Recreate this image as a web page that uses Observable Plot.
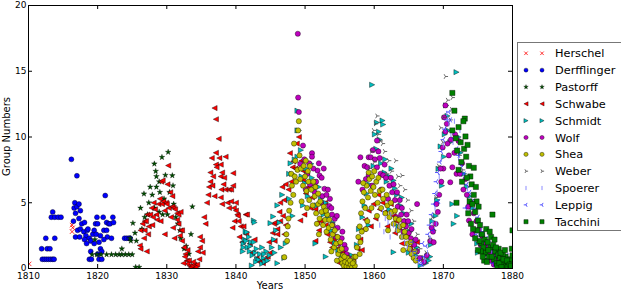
<!DOCTYPE html>
<html><head><meta charset="utf-8">
<script src="https://cdn.jsdelivr.net/npm/d3@7"></script>
<script src="https://cdn.jsdelivr.net/npm/@observablehq/plot@0.6"></script>
<style>body{margin:0;background:#fff}#chart{width:621px;height:292px}</style>
</head><body><div id="chart"></div><script>
const xTicks = [1810,1820,1830,1840,1850,1860,1870,1880];
const yTicks = [0,5,10,15,20];
const observers = ["Herschel","Derfflinger","Pastorff","Schwabe","Schmidt","Wolf","Shea","Weber","Spoerer","Leppig","Tacchini"];

const herschel = [[1810.1,0.35],[1816.3,2.8],[1816.4,3.1],[1816.3,3.3]];
const derfflinger = [[1811.9,1.5],[1812.0,0.7],[1812.3,0.7],[1812.5,2.3],[1812.6,0.7],[1812.7,1.5],[1812.9,0.7],[1813.1,1.5],[1813.2,0.7],[1813.3,3.9],[1813.5,4.3],[1813.5,0.7],[1813.7,0.7],[1813.8,2.3],[1813.8,3.9],[1814.3,3.9],[1814.7,3.9],
[1816.2,8.3],[1817.0,7.05],[1816.7,5.0],[1816.6,4.6],[1817.0,4.7],[1817.3,4.9],[1816.8,4.2],[1817.5,4.4],[1816.5,3.6],[1817.3,3.8],[1817.7,3.4],[1817.1,2.9],[1816.8,2.4],[1817.5,3.0],[1818.1,3.5],[1817.4,2.4],
[1818.0,2.8],[1818.5,2.9],[1818.3,2.5],[1818.8,2.3],[1818.1,2.2],[1818.4,1.9],[1819.0,2.1],[1818.6,3.0],[1819.3,2.6],[1819.5,2.9],[1819.7,3.4],[1819.0,1.3],[1818.8,0.7],[1819.1,0.7],[1819.9,3.9],[1820.0,3.4],[1819.8,2.6],[1820.2,2.0],[1820.4,1.5],[1820.6,1.3],[1820.2,0.7],[1820.6,0.7],[1820.9,2.9],[1820.8,3.9],[1821.3,3.5],[1821.3,2.9],[1821.4,2.4],[1821.6,3.4],[1820.9,2.2],[1820.4,2.5],[1821.1,5.55],[1821.8,3.4],[1822.0,2.3],[1822.2,3.9],[1822.3,3.5],[1823.9,2.3],[1824.2,2.3],[1824.5,2.3],[1824.7,2.3],[1819.5,1.9],[1820.0,1.1]];
const pastorff = [[1819.2,1.06],[1819.9,1.06],[1820.5,1.06],[1821.3,1.06],[1822.0,1.06],[1822.6,1.06],[1823.1,1.06],[1823.5,1.06],[1824.0,1.06],[1824.5,1.06],[1825.0,1.06],[1823.5,1.5],[1824.8,2.1],[1824.7,2.3],[1825.1,3.45],[1825.4,2.7],[1825.6,2.1],[1825.5,0.1],[1826.0,0.1],[1826.2,4.6],[1826.7,5.68],[1827.2,4.1],[1827.4,5.0],[1827.6,6.2],[1828.2,7.96],[1828.4,7.4],[1828.5,6.2],[1828.9,6.6],[1829.3,8.46],[1830.2,8.85],[1829.8,7.1],[1829.6,5.3],[1828.2,4.6],[1828.9,4.3],[1829.4,4.1],[1830.1,4.1],[1830.8,7.07],[1830.9,6.3],[1831.0,4.9],[1831.3,3.9],[1831.6,3.4],[1832.0,2.3],[1832.5,1.5],[1833.7,4.7],[1833.5,2.6],[1833.2,1.1],[1832.8,1.7],[1828.5,7.0],[1827.9,5.6],[1826.4,3.0],[1830.4,5.8],[1829.0,5.8],[1831.9,2.9],[1819.6,2.2],[1826.8,3.9]];
const schwabe = [[1826.1,1.75],[1826.2,1.5],[1826.5,3.4],[1826.8,3.6],[1826.2,2.9],[1827.2,4.1],[1827.0,3.6],[1827.4,3.2],[1826.8,2.9],[1826.7,2.3],[1827.6,4.1],[1827.8,4.6],[1828.1,5.0],[1828.3,4.5],[1828.5,4.1],[1828.8,4.9],[1829.0,5.3],[1829.3,4.9],[1829.5,5.1],[1829.2,6.6],[1829.4,6.7],[1829.9,5.0],[1830.0,4.9],[1830.3,4.6],[1830.2,7.83],[1830.5,5.8],[1830.8,5.5],[1830.8,4.7],[1831.0,4.6],[1831.2,4.5],[1831.5,4.2],[1831.7,4.1],[1832.0,4.3],[1831.5,3.7],[1831.7,3.4],[1832.0,2.9],[1832.2,2.9],[1831.9,2.5],[1832.2,2.1],[1832.5,1.6],[1832.7,1.1],[1832.6,0.9],[1832.9,0.6],[1833.0,0.36],[1833.3,0.2],[1833.5,0.1],[1833.7,0.2],[1834.0,0.3],[1834.2,0.1],[1834.4,0.3],[1834.7,0.7],[1834.8,1.6],[1835.1,2.1],[1834.8,2.4],
[1827.3,2.6],[1827.9,3.3],[1828.6,3.7],[1829.7,4.4],[1830.6,3.9],[1831.1,2.3],[1830.1,6.4],[1828.0,3.9],[1829.1,3.6],[1827.1,1.3],[1833.2,0.6],[1833.8,0.5],[1832.4,0.4],[1834.5,1.3],[1833.0,1.4],[1830.9,3.1],[1829.7,2.6],
[1835.4,3.9],[1835.6,3.4],[1835.8,5.0],[1836.1,6.2],[1836.3,6.6],[1836.3,7.3],[1836.6,6.3],[1836.9,5.5],[1836.9,12.2],[1837.1,11.35],[1837.5,9.86],[1837.1,8.8],[1837.6,8.4],[1837.1,7.9],[1837.2,7.7],[1836.5,8.4],[1837.8,7.9],[1837.8,7.0],[1838.0,7.3],[1838.3,6.9],[1838.5,8.5],[1837.9,6.0],[1838.5,6.0],[1839.0,6.0],[1839.3,6.0],[1839.6,7.25],[1837.8,5.4],[1838.8,5.0],[1839.3,5.1],[1839.7,4.6],[1840.0,4.4],[1840.2,4.1],[1840.0,5.0],[1839.8,3.6],[1839.0,4.6],[1840.4,3.6],[1840.7,3.2],[1841.1,3.2],[1841.4,4.1],[1841.6,4.1],[1838.0,4.9],[1839.6,6.3],[1839.5,3.1],[1835.2,1.2],[1836.0,5.6],[1836.7,7.0],[1838.2,6.4],[1840.3,4.0],[1841.5,2.6],[1840.9,2.0],[1840.5,2.4],
[1842.0,1.9],[1842.4,1.2],[1842.7,2.2],[1843.0,0.8],[1843.4,0.5],[1843.9,0.4],[1844.3,0.7],[1844.6,0.9],[1845.0,1.2],[1844.8,2.0],[1845.3,2.7],[1845.5,3.4],[1845.7,3.5],[1846.0,3.0],[1846.0,2.6],[1845.6,2.1],[1846.4,3.6],[1846.4,5.0],[1846.3,4.3],[1846.7,6.2],[1846.8,4.0],[1847.0,5.2],[1847.2,6.4],[1847.2,3.3],[1847.0,2.6],[1847.6,6.0],[1847.8,8.77],[1848.3,8.15],[1848.2,7.7],[1848.6,7.6],[1848.8,9.5],[1849.1,10.0],[1849.7,6.7],[1849.8,7.4],[1848.0,6.6],[1849.5,8.2],
[1849.3,3.65],[1850.1,5.7],[1851.0,5.4],[1851.5,4.5],[1851.5,2.1],[1852.0,2.9],[1852.3,3.6],[1853.2,2.6],[1853.9,1.6],[1854.9,1.1],[1855.8,0.1],[1850.5,6.2],[1850.8,4.6],[1852.6,4.3],[1853.0,3.3],[1854.2,2.2],[1854.6,1.5],[1855.3,0.6],[1856.2,0.3],[1849.9,4.1],[1851.8,3.5],[1853.6,2.0],[1855.0,0.4],[1850.3,7.3],[1851.3,6.3],[1852.9,5.0],[1854.0,2.9],[1855.5,1.2],
[1857.0,0.6],[1857.6,1.5],[1858.0,2.2],[1858.5,3.0],[1858.7,3.7],[1859.2,4.4],[1859.9,4.9],[1860.2,3.8],[1861.2,5.0],[1860.8,4.5],[1861.6,4.3],[1862.4,4.9],[1862.8,4.0],[1863.2,3.6],[1863.6,3.1],[1864.0,1.9],[1864.8,2.6],[1865.2,1.6],[1866.2,2.0],[1866.6,0.8],[1858.2,1.4],[1860.6,5.6],[1861.9,3.2],[1863.0,2.7],[1865.6,1.1],[1859.5,3.2],[1864.4,3.4]];
const schmidt = [[1841.1,1.9],[1841.1,1.6],[1841.3,2.2],[1841.4,2.8],[1841.6,2.76],[1841.7,1.6],[1841.9,2.4],[1842.0,1.3],[1842.2,2.0],[1842.3,0.23],[1842.4,1.0],[1842.6,3.65],[1842.7,3.5],[1842.6,2.0],[1842.8,1.2],[1843.1,0.73],[1843.3,0.66],[1843.5,1.1],[1843.8,1.6],[1843.8,0.36],[1844.0,0.8],[1844.2,0.5],[1844.4,1.3],[1844.6,0.6],[1844.9,1.0],[1845.2,1.6],[1841.0,1.3],[1842.1,1.7],[1843.0,1.5],[1844.1,1.1],[1842.9,0.5],[1841.5,2.1],
[1845.0,3.45],[1845.4,3.95],[1845.5,2.2],[1845.8,2.9],[1846.0,4.8],[1846.3,3.5],[1846.7,5.6],[1846.5,1.6],[1847.2,1.9],[1847.0,0.8],[1847.7,5.3],[1847.7,7.2],[1847.9,8.0],[1848.1,7.2],[1848.5,8.3],[1848.9,8.5],[1848.9,10.5],[1848.9,12.0],[1849.1,10.5],[1846.0,0.4],[1845.6,1.2],
[1849.5,7.0],[1850.0,6.5],[1850.9,7.96],[1850.4,5.5],[1851.2,6.0],[1851.7,4.8],[1852.3,5.3],[1852.7,4.1],[1853.3,3.9],[1853.8,2.9],[1854.3,2.0],[1854.8,1.4],[1855.3,0.9],[1855.7,0.4],[1856.3,0.1],[1849.7,4.8],[1851.5,1.9],[1853.0,0.9],[1857.0,0.1],[1848.2,4.0],[1850.2,7.6],[1851.0,6.9],[1852.0,6.2],[1853.0,5.0],[1854.0,3.5],[1855.0,2.4],[1849.4,9.0],
[1856.8,1.0],[1857.5,1.8],[1857.8,3.0],[1858.3,3.9],[1858.6,4.8],[1858.9,5.7],[1859.2,3.3],[1859.3,6.4],[1859.7,13.97],[1859.9,7.8],[1860.3,9.1],[1860.4,11.1],[1861.2,11.25],[1861.3,10.95],[1860.8,9.8],[1861.0,8.0],[1861.5,7.3],[1861.8,6.6],[1862.2,7.0],[1862.8,6.7],[1863.3,5.6],[1863.8,4.8],[1864.3,4.2],[1864.7,3.6],[1865.2,2.8],[1865.6,2.1],[1862.8,1.24],[1865.0,1.2],[1866.0,1.0],[1866.7,0.23],[1866.3,0.6],[1860.1,10.2],[1862.2,4.5],[1863.5,3.2],[1861.6,8.3],[1862.5,7.6],[1863.0,6.1],[1864.0,5.4],[1865.4,3.4],[1866.2,1.6],[1860.7,10.4],
[1867.5,0.4],[1867.9,0.6],[1868.2,1.8],[1868.6,2.9],[1868.9,4.0],[1869.3,7.58],[1869.6,9.28],[1869.8,6.3],[1870.1,8.5],[1870.4,12.4],[1870.7,10.5],[1871.3,4.9],[1871.5,3.4],[1871.9,14.93],[1872.0,4.0],[1872.5,8.8],[1873.4,6.2],[1874.2,4.6],[1874.9,1.9],[1875.5,2.6],[1876.1,1.6],[1876.8,0.9],[1877.4,0.5],[1868.4,3.6],[1869.1,5.2],[1873.0,7.2],[1870.6,11.6],[1870.2,10.2],[1871.0,9.6],[1872.2,10.0],[1873.8,5.5],[1875.0,1.2],[1868.1,0.9]];
const wolf = [[1848.95,17.85],[1849.0,13.0],[1849.1,11.9],[1849.7,9.35],[1849.3,7.96],[1851.0,8.77],[1851.0,8.5],[1852.0,8.0],[1852.7,7.6],[1851.8,7.45],[1852.1,7.07],[1852.8,6.06],[1853.6,5.3],[1853.5,4.75],[1854.3,3.78],[1854.4,2.43],[1855.1,1.37],[1850.3,7.2],[1850.7,6.4],[1851.4,5.8],[1852.3,5.0],[1853.0,4.4],[1853.9,4.1],[1854.7,3.1],[1855.3,2.3],[1855.7,1.8],[1856.0,1.1],[1855.5,0.7],[1854.9,1.9],[1850.1,6.0],[1849.9,8.3],[1853.3,6.0],[1852.5,5.5],[1851.6,6.6],[1854.0,3.3],[1855.9,1.5],[1856.3,0.8],[1850.6,8.0],[1851.2,7.6],[1852.4,6.9],[1853.1,5.6],[1853.8,4.6],[1854.6,4.0],[1855.4,2.8],[1856.1,0.3],[1856.6,0.5],
[1858.0,8.46],[1858.6,7.8],[1859.2,8.46],[1859.0,7.7],[1859.2,7.1],[1859.5,8.46],[1860.4,9.73],[1860.4,7.7],[1860.9,7.2],[1861.3,7.1],[1861.7,6.9],[1862.2,6.3],[1862.6,5.8],[1863.0,5.2],[1863.4,4.7],[1863.9,4.1],[1864.3,3.6],[1864.6,3.2],[1865.0,2.7],[1865.3,2.3],[1865.8,1.8],[1866.2,4.9],[1866.2,1.3],[1866.6,0.8],[1858.8,6.8],[1859.7,6.3],[1860.1,8.3],[1861.0,6.0],[1862.0,5.3],[1863.2,3.9],[1864.2,2.8],[1865.5,1.3],[1857.7,6.6],[1858.3,6.0],[1860.8,8.4],[1862.4,6.9],[1863.7,5.2],[1864.9,3.6],[1861.5,7.9],[1862.8,6.4],[1863.3,5.8],[1864.0,4.6],[1864.7,4.1],[1865.4,3.0],[1866.0,2.2],[1859.8,9.0],[1860.6,8.9],
[1867.2,0.5],[1867.6,1.0],[1868.1,2.1],[1868.5,2.8],[1868.9,3.4],[1869.2,4.3],[1869.4,5.6],[1869.7,6.6],[1870.0,7.6],[1870.3,12.4],[1870.3,10.4],[1870.6,9.5],[1870.8,8.6],[1871.0,6.56],[1871.3,7.7],[1871.6,8.8],[1872.2,9.7],[1872.7,8.0],[1873.2,6.8],[1873.7,3.65],[1874.0,5.0],[1874.4,4.2],[1874.8,3.6],[1875.2,3.0],[1875.6,2.5],[1876.0,1.9],[1876.5,1.6],[1877.0,1.2],[1877.5,0.9],[1878.0,0.6],[1869.9,9.2],[1871.9,7.2],[1873.4,5.6],[1868.6,2.0],[1875.9,1.1],[1874.2,2.6],[1868.3,3.1],[1869.0,4.9],[1869.6,7.6],[1870.1,11.5],[1870.5,11.0],[1871.1,9.8],[1871.7,10.2],[1872.4,7.2],[1872.9,6.0],[1873.6,4.7],[1874.6,2.9],[1875.4,1.8],[1876.2,1.2],[1876.8,0.6],[1877.3,0.3]];
const shea = [[1847.0,0.86],[1847.4,2.1],[1847.3,2.6],[1847.5,3.2],[1847.6,3.8],[1847.7,4.4],[1847.9,5.0],[1848.0,7.2],[1848.1,6.3],[1848.4,9.5],[1848.5,7.0],[1848.7,6.6],[1849.1,11.2],[1849.0,10.5],[1848.9,7.5],[1849.3,6.8],[1849.4,7.6],[1849.2,8.6],[1848.3,5.6],[1848.6,8.2],
[1849.7,6.3],[1850.0,7.0],[1850.2,5.9],[1850.5,6.6],[1850.6,5.2],[1850.9,6.0],[1851.1,4.8],[1851.4,5.5],[1851.6,4.2],[1851.9,4.9],[1852.1,3.8],[1852.4,4.3],[1852.6,3.3],[1852.9,3.7],[1853.1,2.8],[1853.4,3.1],[1853.7,2.2],[1854.0,2.6],[1854.2,1.6],[1854.5,1.9],[1854.8,1.1],[1855.0,1.4],[1855.2,0.7],[1855.4,0.4],[1855.6,0.2],[1855.8,0.5],[1856.0,0.15],[1856.2,0.4],[1856.4,0.1],[1856.6,0.3],[1856.8,0.1],[1857.0,0.5],[1857.2,0.2],[1855.5,1.0],[1856.1,0.8],[1850.3,4.6],[1851.7,3.4],[1853.2,4.1],[1849.5,5.1],[1852.0,2.6],[1853.8,1.3],[1854.6,0.6],
[1849.8,7.8],[1850.1,8.2],[1850.4,7.4],[1850.7,7.8],[1851.2,6.6],[1851.5,6.2],[1851.9,5.7],[1852.2,5.1],[1852.7,4.7],[1853.0,4.4],[1853.5,3.7],[1853.9,3.3],[1854.3,2.9],[1854.7,2.4],[1855.1,2.0],[1855.3,1.5],[1855.7,0.9],[1856.5,0.6],[1856.9,0.4],[1857.1,0.9],
[1857.3,0.9],[1857.5,1.6],[1857.7,2.4],[1857.9,3.2],[1858.1,4.2],[1858.3,5.1],[1858.5,5.8],[1858.7,4.6],[1858.9,6.3],[1859.1,5.4],[1859.3,6.8],[1859.5,5.9],[1859.7,7.0],[1859.9,6.2],[1860.1,5.6],[1860.3,6.6],[1860.5,5.0],[1860.8,5.9],[1861.0,4.6],[1861.3,5.3],[1861.6,4.2],[1861.9,4.8],[1862.2,3.9],[1862.5,4.3],[1862.8,3.4],[1863.1,3.8],[1863.4,2.9],[1863.7,3.2],[1864.0,2.4],[1864.4,2.8],[1864.8,1.9],[1865.1,1.5],[1865.4,1.1],[1865.7,0.8],[1866.0,0.6],[1858.0,2.0],[1859.0,3.6],[1857.9,1.1],[1860.4,4.0],[1862.0,2.9],[1864.2,1.4],
[1858.4,6.5],[1859.2,7.3],[1859.6,4.6],[1860.0,7.4],[1860.6,6.9],[1861.2,6.0],[1861.8,5.6],[1862.4,5.0],[1863.0,4.4],[1863.6,3.7],[1864.2,3.3],[1864.6,2.4],[1865.3,2.0],[1865.9,1.3],[1858.8,3.0],[1858.2,2.8]];
const weber = [[1859.6,8.9],[1859.9,10.5],[1860.2,11.0],[1860.4,11.6],[1860.6,10.2],[1860.9,9.7],[1861.2,9.5],[1861.5,8.9],[1862.1,8.2],[1862.5,7.4],[1863.1,8.2],[1863.4,7.0],[1864.0,7.07],[1864.4,6.0],[1864.8,5.2],[1865.3,4.4],[1865.7,3.6],[1866.2,2.6],[1866.6,1.5],[1867.0,0.8],[1867.5,1.2],[1868.0,2.3],[1868.4,3.9],[1868.9,5.4],[1869.3,7.8],[1869.6,10.7],[1869.9,9.6],[1870.3,14.6],[1870.6,12.8],[1871.0,11.3],[1871.3,13.0],[1871.2,12.1],[1871.8,10.0],[1872.3,8.6],[1859.3,7.6],[1861.8,7.2],[1863.7,6.3],[1860.0,8.1],[1870.0,11.5],[1872.8,7.5]];
const spoerer = [[1861.2,4.3],[1861.6,3.8],[1862.0,3.5],[1862.4,4.1],[1862.8,3.3],[1863.2,2.9],[1863.6,3.2],[1864.0,2.4],[1864.4,2.0],[1864.8,1.7],[1865.2,1.4],[1865.6,1.1],[1866.0,0.8],[1866.4,0.5],[1866.8,0.3],[1860.8,3.3],[1861.4,2.8],[1862.3,2.4],
[1867.3,0.6],[1867.7,1.2],[1868.1,2.3],[1868.5,3.5],[1868.8,4.6],[1869.1,5.8],[1869.4,7.0],[1869.7,8.3],[1870.0,9.4],[1870.3,10.6],[1870.5,11.8],[1870.8,11.0],[1871.1,10.2],[1871.4,9.6],[1871.8,9.0],[1872.2,8.4],[1872.6,7.7],[1873.0,7.0],[1873.5,6.1],[1874.0,5.2],[1874.5,4.4],[1875.0,3.6],[1875.5,2.9],[1876.0,2.2],[1876.5,1.7],[1877.0,1.2],[1877.5,0.8],[1878.0,0.5],[1878.5,0.3],[1879.0,0.2],[1872.4,10.5],[1869.0,3.4],[1871.6,11.2]];
const leppig = [[1866.5,0.6],[1866.9,0.3],[1867.2,0.9],[1867.5,1.7],[1867.8,2.6],[1868.0,3.3],[1868.3,4.1],[1868.6,4.9],[1868.8,5.7],[1869.0,6.6],[1869.2,7.3],[1869.5,8.1],[1869.7,8.9],[1870.0,9.8],[1870.2,10.6],[1870.5,11.3],[1870.8,11.9],[1871.0,11.3],[1871.3,10.4],[1871.6,9.9],[1871.9,9.1],[1872.2,8.6],[1872.6,7.9],[1873.0,7.2],[1873.4,6.4],[1873.8,5.8],[1874.2,5.1],[1874.6,4.5],[1875.0,3.9],[1875.4,3.3],[1875.8,2.8],[1876.2,2.3],[1876.6,1.9],[1877.0,1.5],[1877.4,1.2],[1877.8,0.9],[1878.2,0.6],[1878.6,0.4],[1879.0,0.3],[1879.4,0.5],[1879.8,0.8],[1866.0,1.3],[1865.5,2.0],[1867.0,1.9],[1868.5,2.9],[1869.3,5.1],[1876.0,1.1],[1877.2,0.4],[1878.0,1.3],[1879.2,1.0],[1874.8,2.6],[1873.2,4.6],[1876.3,0.6],[1877.6,0.2],[1878.4,0.9],[1879.6,0.1],[1878.8,0.1],[1875.6,1.4]];
const tacchini = [[1871.3,13.35],[1873.1,11.4],[1872.2,10.75],[1871.3,10.5],[1873.2,10.04],[1872.0,8.97],[1873.0,9.1],[1872.5,9.6],[1871.8,9.9],[1872.6,8.1],[1873.3,8.5],[1873.7,7.8],[1874.4,7.66],[1873.9,7.0],[1873.4,6.9],[1874.1,6.4],[1874.7,6.2],[1874.4,5.6],[1874.8,5.1],[1875.1,4.7],[1874.6,4.3],[1875.0,3.65],[1875.3,3.3],[1877.1,4.1],[1876.2,3.0],[1875.6,2.6],[1876.0,2.2],[1875.5,1.9],[1876.4,2.0],[1876.8,1.6],[1877.2,1.8],[1877.5,1.3],[1876.1,1.2],[1875.8,1.6],[1877.9,1.0],[1878.2,0.8],[1878.5,0.5],[1878.8,0.3],[1879.1,0.2],[1879.4,0.4],[1877.3,0.7],[1876.6,0.9],[1878.0,1.5],[1875.9,0.6],[1879.0,0.9],[1879.7,0.7],[1880.0,2.9],[1879.9,1.5],[1872.2,7.5],[1872.7,6.6],[1873.8,5.1],[1872.9,11.2],[1871.6,12.0],[1874.0,3.4],[1877.7,0.4],[1878.6,1.1],[1876.9,2.4],[1873.5,9.4],[1874.9,2.9],[1871.9,5.0],
[1875.2,2.1],[1875.4,1.3],[1875.7,0.9],[1876.3,0.5],[1876.5,1.4],[1876.7,2.8],[1877.0,0.9],[1877.4,2.2],[1877.6,1.6],[1877.8,0.2],[1878.1,0.4],[1878.3,1.2],[1878.4,0.1],[1878.7,0.7],[1878.9,1.4],[1879.2,0.6],[1879.3,0.1],[1879.6,0.3],[1879.8,0.2],[1880.0,1.0],[1874.3,3.0],[1874.6,2.3],[1875.0,1.4],[1873.6,4.2],[1874.2,4.9]];

// custom matplotlib-like marker shapes
const R = s => Math.sqrt(s / Math.PI);
const triLeftFill = {draw(c, s) {const r = R(s); c.moveTo(-r, 0); c.lineTo(r, -r); c.lineTo(r, r); c.closePath();}};
const triRightFill = {draw(c, s) {const r = R(s); c.moveTo(r, 0); c.lineTo(-r, -r); c.lineTo(-r, r); c.closePath();}};
const triRightLines = {draw(c, s) {const r = R(s); c.moveTo(0,0); c.lineTo(r,0); c.moveTo(0,0); c.lineTo(-0.5*r,-0.87*r); c.moveTo(0,0); c.lineTo(-0.5*r,0.87*r);}};
const triLeftLines = {draw(c, s) {const r = R(s); c.moveTo(0,0); c.lineTo(-r,0); c.moveTo(0,0); c.lineTo(0.5*r,-0.87*r); c.moveTo(0,0); c.lineTo(0.5*r,0.87*r);}};
const vline = {draw(c, s) {const r = R(s); c.moveTo(0,-r); c.lineTo(0,r);}};
const cross = {draw(c, s) {const r = R(s); c.moveTo(-r,-r); c.lineTo(r,r); c.moveTo(-r,r); c.lineTo(r,-r);}};
const circle = {draw(c, s) {const r = R(s); c.moveTo(r,0); c.arc(0,0,r,0,2*Math.PI);}};
const square = {draw(c, s) {const r = R(s); c.rect(-r,-r,2*r,2*r);}};
const star = {draw(c, s) {const r = R(s), ri = r*0.4; for (let i=0;i<10;i++){const a = -Math.PI/2 + i*Math.PI/5; const rr = i%2? ri : r; const x = rr*Math.cos(a), y = rr*Math.sin(a); i ? c.lineTo(x,y) : c.moveTo(x,y);} c.closePath();}};

const series = [herschel, derfflinger, pastorff, schwabe, schmidt, wolf, shea, weber, spoerer, leppig, tacchini];
const looks = [
  {symbol: cross, r: 2.2, fill: "none", stroke: "#ff0000", strokeWidth: 0.8},
  {symbol: circle, r: 2.5, fill: "#0000ff", stroke: "#000", strokeWidth: 0.4},
  {symbol: star, r: 3.0, fill: "#004d00", stroke: "#000", strokeWidth: 0.3},
  {symbol: triLeftFill, r: 2.6, fill: "#ff0000", stroke: "#000", strokeWidth: 0.4},
  {symbol: triRightFill, r: 2.6, fill: "#00bfbf", stroke: "#000", strokeWidth: 0.4},
  {symbol: circle, r: 2.6, fill: "#bf00bf", stroke: "#000", strokeWidth: 0.4},
  {symbol: circle, r: 2.6, fill: "#bfbf00", stroke: "#000", strokeWidth: 0.4},
  {symbol: triRightLines, r: 2.6, fill: "none", stroke: "#444", strokeWidth: 0.8},
  {symbol: vline, r: 2.6, fill: "none", stroke: "#8080ff", strokeWidth: 0.9},
  {symbol: triLeftLines, r: 2.8, fill: "none", stroke: "#2a2aff", strokeWidth: 0.8},
  {symbol: square, r: 2.6, fill: "#008000", stroke: "#000", strokeWidth: 0.4}
];

const svg = Plot.plot({
  width: 621, height: 292,
  marginLeft: 28, marginRight: 109, marginTop: 5, marginBottom: 24,
  style: {fontFamily: "DejaVu Sans", fontSize: "9px", background: "#fff", color: "#000"},
  x: {domain: [1810, 1880], ticks: xTicks, tickFormat: d => String(d), tickSize: 0, tickPadding: 4, label: null},
  y: {domain: [0, 20], ticks: yTicks, tickSize: 0, tickPadding: 2, label: null},
  marks: [
    ...series.map((data, i) => Plot.dot(data, {x: d => d[0], y: d => d[1], clip: true, ...looks[i]})),
    Plot.ruleX(xTicks, {x: d => d, insetTop: 259, stroke: "#000"}),
    Plot.ruleX(xTicks, {x: d => d, insetBottom: 259, stroke: "#000"}),
    Plot.ruleY(yTicks, {y: d => d, insetRight: 480, stroke: "#000"}),
    Plot.ruleY(yTicks, {y: d => d, insetLeft: 480, stroke: "#000"}),
    Plot.frame({stroke: "#000"})
  ]
});

const s = d3.select(svg);
s.append("text").attr("x", 270).attr("y", 289).attr("text-anchor", "middle")
  .attr("font-size", "10px").attr("font-family", "DejaVu Sans").text("Years");
s.append("text").attr("transform", "translate(10,136.5) rotate(-90)").attr("text-anchor", "middle")
  .attr("font-size", "10px").attr("font-family", "DejaVu Sans").text("Group Numbers");

const lg = s.append("g");
lg.append("rect").attr("x", 517.5).attr("y", 42.5).attr("width", 120).attr("height", 188)
  .attr("fill", "#fff").attr("stroke", "#777").attr("stroke-width", 1);
observers.forEach((name, i) => {
  const y = 53.3 + i * 16.84, L = looks[i], lr = L.r * 0.8;
  const path = d3.symbol(L.symbol, lr * lr * Math.PI)();
  [526, 542].forEach(x => lg.append("path").attr("d", path).attr("transform", `translate(${x},${y})`)
    .attr("fill", L.fill).attr("stroke", L.stroke).attr("stroke-width", L.strokeWidth));
  lg.append("text").attr("x", 555).attr("y", y + 4).attr("text-anchor", "start").attr("font-size", "11.3px")
    .attr("font-family", "DejaVu Sans").text(name);
});

document.getElementById("chart").appendChild(svg);
</script></body></html>
